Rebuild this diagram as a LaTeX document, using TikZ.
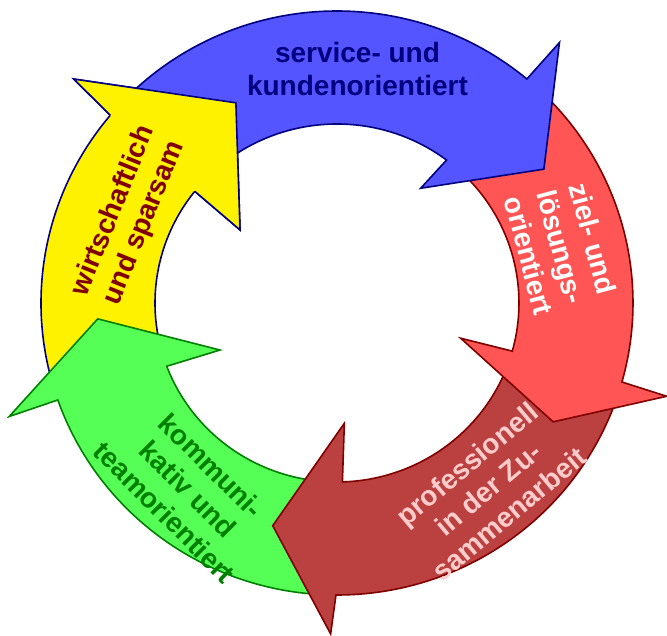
\documentclass[tikz,border=0pt]{standalone}
\usepackage{fontspec}
\setmainfont{Liberation Sans}
\definecolor{navyline}{RGB}{0,0,128}
\definecolor{bluefill}{RGB}{85,85,255}
\definecolor{redfill}{RGB}{255,85,85}
\definecolor{redline}{RGB}{128,0,0}
\definecolor{brickfill}{RGB}{187,64,64}
\definecolor{greenfill}{RGB}{85,255,85}
\definecolor{greenline}{RGB}{0,128,0}
\definecolor{pinktext}{RGB}{255,204,204}
\begin{document}
\begin{tikzpicture}[x=1pt, y=1pt, line width=1.6pt, line join=miter,
    lbl/.style={align=center, inner sep=0pt, font=\fontsize{28}{33}\selectfont\bfseries}]
    \useasboundingbox (-337,-333) rectangle (330,303);
    % ring of arrows, each head lies over the tail of the next one
    \filldraw[fill=yellow, draw=navyline] (195:296 and 292) arc[start angle=195, end angle=140, x radius=296, y radius=292]
        -- (139.6:345.5) -- (116.8:224.3) -- (143:121.4) -- (141.4:182 and 179)
        arc[start angle=141.4, end angle=195, x radius=182, y radius=179] -- cycle;
    \filldraw[fill=greenfill, draw=greenline] (266:296 and 292) arc[start angle=266, end angle=199.4, x radius=296, y radius=292]
        -- (199.1:346.9) -- (183.8:239.8) -- (201.9:126.1) -- (200.7:182 and 179)
        arc[start angle=200.7, end angle=266, x radius=182, y radius=179] -- cycle;
    \filldraw[fill=brickfill, draw=redline] (-20:296 and 292) arc[start angle=-20, end angle=-90.2, x radius=296, y radius=292]
        -- (-91.1:331) -- (-106.1:231.8) -- (-86.5:120.5) -- (-88.3:182 and 179)
        arc[start angle=-88.3, end angle=-20, x radius=182, y radius=179] -- cycle;
    \filldraw[fill=redfill, draw=redline] (45:296 and 292) arc[start angle=45, end angle=-15.7, x radius=296, y radius=292]
        -- (-15.8:342.6) -- (-28.8:246.7) -- (-15.9:128.6) -- (-15.6:182 and 179)
        arc[start angle=-15.6, end angle=45, x radius=182, y radius=179] -- cycle;
    \filldraw[fill=bluefill, draw=navyline] (135:296 and 292) arc[start angle=135, end angle=50.1, x radius=296, y radius=292]
        -- (49.5:342.6) -- (32.9:246.4) -- (53.9:142) -- (53:182 and 179)
        arc[start angle=53, end angle=135, x radius=182, y radius=179] -- cycle;
    % yellow head again, over the blue tail
    \filldraw[fill=yellow, draw=navyline] (140:296 and 292) -- (139.6:345.5) -- (116.8:224.3) -- (143:121.4) -- (141.4:182 and 179);
    % labels
    \node[lbl, text=navyline] (service) at (20.5,234) {service- und\\kundenorientiert};
    \node[lbl, text=redline, rotate=68] (sparsam) at (-208,86) {wirtschaftlich\\und sparsam};
    \node[lbl, text=white, rotate=-75] (ziel) at (224,56) {ziel- und\\lösungs-\\orientiert};
    \node[lbl, text=pinktext, rotate=40] (zusammen) at (151,-186) {professionell\\in der Zu-\\sammenarbeit};
    \node[lbl, text=greenline, rotate=-45] (team) at (-149,-186) {kommuni-\\kativ und\\teamorientiert};
\end{tikzpicture}
\end{document}
